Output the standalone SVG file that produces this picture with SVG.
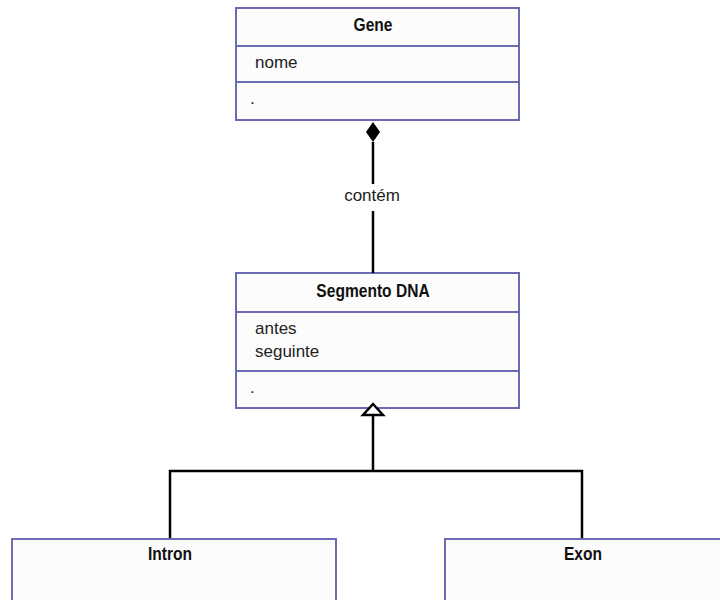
<svg xmlns="http://www.w3.org/2000/svg" width="720" height="600" viewBox="0 0 720 600">
  <style>
    .box { fill: #fcfcfc; stroke: #6c6cb4; stroke-width: 2; }
    .div { stroke: #6c6cb4; stroke-width: 2; fill: none; }
    .title { font-family: "Liberation Sans", Arial, sans-serif; font-size: 19px; font-weight: bold; fill: #111; text-anchor: middle; }
    .attr { font-family: "Liberation Sans", Arial, sans-serif; font-size: 17px; fill: #222; }
    .edge { stroke: #000; stroke-width: 2.5; fill: none; }
    .lbl { font-family: "Liberation Sans", Arial, sans-serif; font-size: 17px; fill: #222; text-anchor: middle; }
  </style>
  <rect width="720" height="600" fill="#ffffff"/>

  <g id="gene">
    <rect class="box" x="236" y="8" width="283" height="112"/>
    <line class="div" x1="236" y1="46" x2="519" y2="46"/>
    <line class="div" x1="236" y1="82" x2="519" y2="82"/>
    <text class="title" transform="translate(373,31) scale(0.82,1)">Gene</text>
    <text class="attr" x="255" y="68">nome</text>
    <text class="attr" x="250" y="104">.</text>
  </g>

  <g id="segmento-dna">
    <rect class="box" x="236" y="273" width="283" height="135"/>
    <line class="div" x1="236" y1="312" x2="519" y2="312"/>
    <line class="div" x1="236" y1="371" x2="519" y2="371"/>
    <text class="title" transform="translate(373,297) scale(0.82,1)">Segmento DNA</text>
    <text class="attr" x="255" y="334">antes</text>
    <text class="attr" x="255" y="357">seguinte</text>
    <text class="attr" x="250" y="393">.</text>
  </g>

  <g id="intron">
    <rect class="box" x="12" y="539" width="324" height="80"/>
    <text class="title" transform="translate(170,560) scale(0.82,1)">Intron</text>
  </g>

  <g id="exon">
    <rect class="box" x="445" y="539" width="300" height="80"/>
    <text class="title" transform="translate(583,560) scale(0.82,1)">Exon</text>
  </g>

  <g id="connectors">
    <!-- composition: Gene contains Segmento DNA -->
    <line class="edge" x1="373" y1="142" x2="373" y2="184"/>
    <line class="edge" x1="373" y1="211" x2="373" y2="273"/>
    <polygon points="373,122 380,132 373,142 366,132" fill="#000"/>
    <text class="lbl" x="372" y="201">contém</text>
    <!-- generalization: Intron / Exon specialize Segmento DNA -->
    <line class="edge" x1="373" y1="415" x2="373" y2="471"/>
    <polyline class="edge" points="170,538 170,471 582,471 582,538"/>
    <polygon points="373,404 383,415 363,415" fill="#fff" stroke="#000" stroke-width="2.5" stroke-linejoin="miter"/>
  </g>
</svg>
